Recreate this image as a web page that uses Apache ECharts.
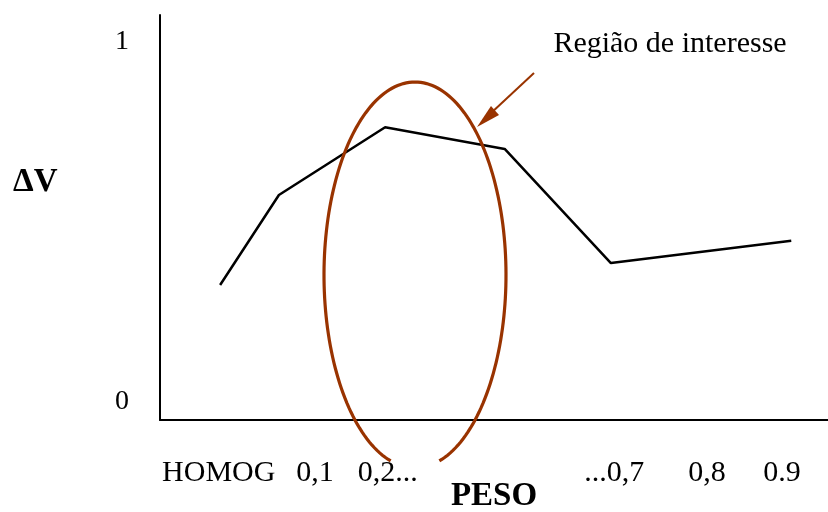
<!DOCTYPE html>
<html>
<head>
<meta charset="utf-8">
<script src="https://cdn.jsdelivr.net/npm/echarts@6/dist/echarts.min.js"></script>
<style>
html,body{margin:0;padding:0;background:#fff;}
#chart{width:828px;height:512px;}
</style>
</head>
<body>
<div id="chart"></div>
<script>
// Data
var pesoX = [0.9, 1.78, 3.37, 5.16, 6.75, 9.45];
var deltaV = [0.325, 0.575, 0.763, 0.703, 0.386, 0.448];
var xTickPos = [0.88, 2.32, 3.41, 6.80, 8.19, 9.31];
var xTickLabels = ['HOMOG', '0,1', '0,2...', '...0,7', '0,8', '0.9'];
var yTickPos = [0, 1];
var yTickLabels = ['0', '1'];

var serif = '"Liberation Serif", "Times New Roman", serif';
var brown = '#993300';

// annotation ellipse outline (open at the bottom, as in the picture)
var ellipsePts = [];
(function () {
  var cx = 415, cy = 275, rx = 91, ry = 193;
  var t0 = Math.PI + 1.3, t1 = -1.3, n = 180;
  for (var i = 0; i <= n; i++) {
    var t = t0 + (t1 - t0) * i / n;
    ellipsePts.push([cx + rx * Math.cos(t), cy - ry * Math.sin(t)]);
  }
})();

var chart = echarts.init(document.getElementById('chart'));
var seriesData = pesoX.map(function (x, i) { return [x, deltaV[i]]; });

chart.setOption({
  animation: false,
  backgroundColor: '#fff',
  grid: { left: 160, right: 0, top: 15, bottom: 92, containLabel: false, outerBoundsMode: 'none' },
  xAxis: {
    type: 'value', min: 0, max: 10,
    splitLine: { show: false },
    axisTick: { show: false },
    axisLine: { show: true, onZero: false, lineStyle: { color: '#000', width: 2 } },
    axisLabel: {
      customValues: xTickPos,
      margin: 38,
      color: '#000', fontFamily: serif, fontSize: 30,
      formatter: function (v) {
        for (var i = 0; i < xTickPos.length; i++) {
          if (Math.abs(xTickPos[i] - v) < 1e-6) return xTickLabels[i];
        }
        return '';
      }
    },
    name: 'PESO', nameLocation: 'middle', nameGap: 76, nameMoveOverlap: false,
    nameTextStyle: { color: '#000', fontFamily: serif, fontSize: 33, fontWeight: 'bold', verticalAlign: 'middle' }
  },
  yAxis: {
    type: 'value', min: -0.05, max: 1.075,
    splitLine: { show: false },
    axisTick: { show: false },
    axisLine: { show: true, onZero: false, lineStyle: { color: '#000', width: 2 } },
    axisLabel: {
      customValues: yTickPos,
      margin: 31,
      color: '#000', fontFamily: serif, fontSize: 28,
      formatter: function (v) {
        for (var i = 0; i < yTickPos.length; i++) {
          if (Math.abs(yTickPos[i] - v) < 1e-6) return yTickLabels[i];
        }
        return '';
      }
    }
  },
  series: [{
    type: 'line',
    data: seriesData,
    symbol: 'none',
    lineStyle: { color: '#000', width: 2.5 },
    z: 2
  }],
  graphic: [
    {
      type: 'text', left: 13, top: 166,
      style: { text: 'ΔV', fill: '#000', font: 'bold 33px ' + serif }
    },
    {
      type: 'text', x: 670, y: 44,
      style: { text: 'Região de interesse', fill: '#000', font: '30px ' + serif, textAlign: 'center', textVerticalAlign: 'middle' }
    },
    {
      type: 'polyline', z: 10,
      shape: { points: ellipsePts },
      style: { fill: null, stroke: brown, lineWidth: 3.2 }
    },
    {
      type: 'line', z: 10,
      shape: { x1: 534, y1: 73, x2: 490, y2: 114 },
      style: { stroke: brown, lineWidth: 2 }
    },
    {
      type: 'polygon', z: 10,
      shape: { points: [[477, 127], [491, 106], [499, 115]] },
      style: { fill: brown }
    }
  ]
});
</script>
</body>
</html>
